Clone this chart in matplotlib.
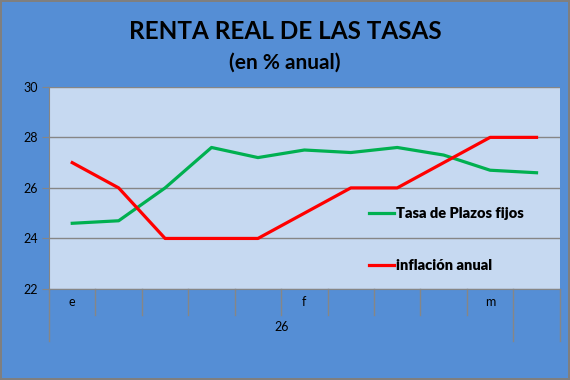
import matplotlib
matplotlib.use('Agg')
import matplotlib.pyplot as plt

plt.rcParams['font.family'] = ['Lato', 'DejaVu Sans']

# datos
meses = ['e', '', '', '', '', 'f', '', '', '', 'm', '']
anio = '26'
plazos_fijos = [24.6, 24.7, 26.0, 27.6, 27.2, 27.5, 27.4, 27.6, 27.3, 26.7, 26.6]
inflacion = [27, 26, 24, 24, 24, 25, 26, 26, 27, 28, 28]

fondo = '#558ED5'
area = '#C6D9F1'
gris = '#868686'

fig = plt.figure(figsize=(5.7, 3.8), dpi=100, facecolor=fondo)
fig.patch.set_edgecolor('#7F7F7F')
fig.patch.set_linewidth(1.5)
ax = fig.add_axes([0.086, 0.2395, 0.896, 0.532])
ax.set_facecolor(area)

x = list(range(len(meses)))
ax.plot(x, plazos_fijos, color='#00B050', lw=2.3, label='Tasa de Plazos fijos', zorder=3)
ax.plot(x, inflacion, color='#FF0000', lw=2.3, label='inflación anual', zorder=3)

ax.set_ylim(22, 30)
ax.set_xlim(-0.5, len(meses) - 0.5)
ax.set_yticks([22, 24, 26, 28, 30])
ax.yaxis.grid(True, color=gris, lw=1)
ax.set_axisbelow(True)
ax.tick_params(axis='y', colors=gris, length=5, labelsize=9, labelcolor='black', pad=3)
ax.set_xticks([])

for s in ['top', 'right']:
    ax.spines[s].set_visible(False)
ax.spines['left'].set_color(gris)
ax.spines['bottom'].set_color(gris)

# ejes de categorias en dos niveles
tr = ax.get_xaxis_transform()
for i in range(1, len(meses)):
    if i == 10:
        continue
    ax.plot([i - 0.5, i - 0.5], [0, -0.13], transform=tr, color=gris, lw=1, clip_on=False)
for xb in [-0.5, 9.5, 10.5]:
    ax.plot([xb, xb], [0, -0.255], transform=tr, color=gris, lw=1, clip_on=False)
for i, m in enumerate(meses):
    if m:
        ax.text(i, -0.065, m, transform=tr, ha='center', va='center', fontsize=9)
ax.text(4.5, -0.19, anio, transform=tr, ha='center', va='center', fontsize=9)

leg = ax.legend(loc='center left', bbox_to_anchor=(0.6, 0.245), frameon=False,
                handlelength=1.75, handletextpad=0.1, labelspacing=2.7,
                prop={'weight': 'heavy', 'size': 10.5})

fig.text(0.5, 0.917, 'RENTA REAL DE LAS TASAS', ha='center', va='center',
         fontsize=17.5, fontweight='bold')
fig.text(0.5, 0.835, '(en % anual)', ha='center', va='center',
         fontsize=15, fontweight='bold')

fig.savefig('out.png', dpi=100, facecolor=fondo, edgecolor=fig.patch.get_edgecolor())
